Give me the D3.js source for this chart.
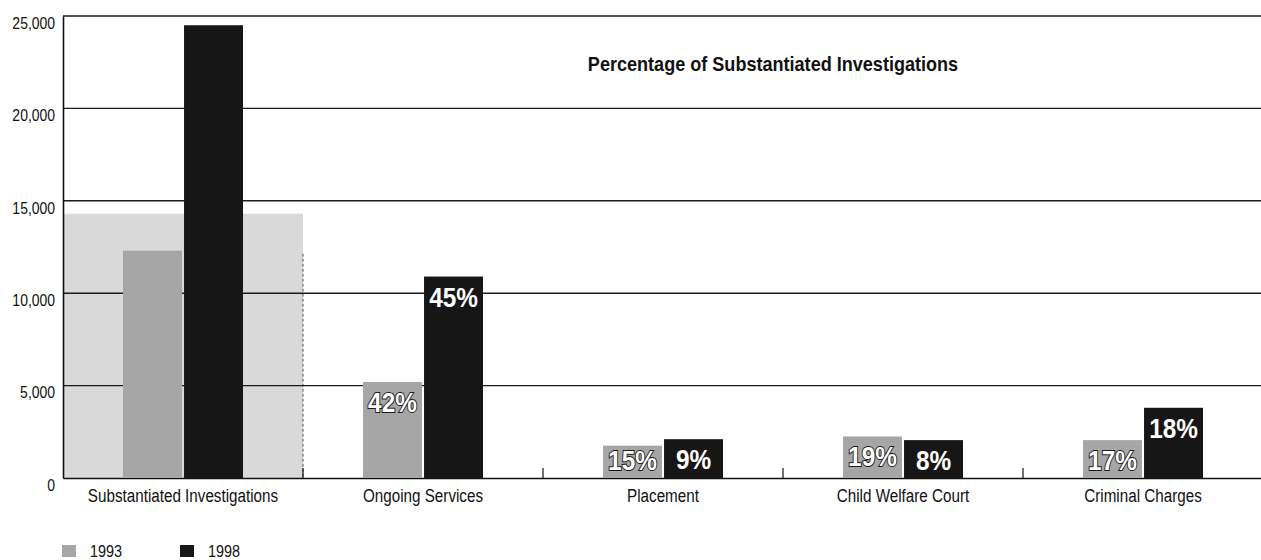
<!DOCTYPE html>
<html><head><meta charset="utf-8">
<script src="https://cdn.jsdelivr.net/npm/d3@7"></script>
<style>
html,body{margin:0;padding:0;background:#fff;}
svg text{font-family:"Liberation Sans","Arimo",Arial,sans-serif;}
</style></head><body>
<svg id="chart" width="1261" height="560"></svg>
<script>
const categories = ["Substantiated Investigations","Ongoing Services","Placement","Child Welfare Court","Criminal Charges"];
const series = ["1993","1998"];
const values1993 = [12300, 5200, 1750, 2250, 2050];
const values1998 = [24500, 10900, 2100, 2050, 3800];
const pct1993 = [null, "42%", "15%", "19%", "17%"];
const pct1998 = [null, "45%", "9%", "8%", "18%"];
const yTicks = [0, 5000, 10000, 15000, 20000, 25000];
const highlightValue = 14300;
const chartTitle = "Percentage of Substantiated Investigations";

const colors = {"1993": "#a6a6a6", "1998": "#161616"};
const svg = d3.select("#chart");
const margin = {left: 63, right: -2, top: 16, bottom: 82};
const W = 1261, H = 560;
const x = d3.scaleBand().domain(categories).range([margin.left, W - margin.right]).padding(0);
const xs = d3.scaleBand().domain(series).range([x.bandwidth()/4, x.bandwidth()*3/4]).paddingInner(0.034).paddingOuter(0);
const y = d3.scaleLinear().domain([0, 25000]).range([H - margin.bottom, margin.top]);

// narrow the glyphs horizontally to mimic a condensed typeface
function condense(sel, f) {
  sel.each(function() {
    const n = this.getComputedTextLength();
    if (n > 0) d3.select(this).attr("textLength", n * f).attr("lengthAdjust", "spacingAndGlyphs");
  });
}

const data = categories.map((c, i) => ({cat: c, vals: [
  {s: "1993", v: values1993[i], p: pct1993[i]},
  {s: "1998", v: values1998[i], p: pct1998[i]}
]}));

// backdrop behind the first category
svg.append("rect")
  .attr("x", x(categories[0]))
  .attr("y", y(highlightValue))
  .attr("width", x.bandwidth())
  .attr("height", y(0) - y(highlightValue))
  .attr("fill", "#d9d9d9");
svg.append("line")
  .attr("x1", x(categories[0]) + x.bandwidth()).attr("x2", x(categories[0]) + x.bandwidth())
  .attr("y1", y(highlightValue) + 40).attr("y2", y(0))
  .attr("stroke", "#555").attr("stroke-width", 1).attr("stroke-dasharray", "3,2");

// gridlines
svg.append("g").selectAll("line").data(yTicks.filter(t => t > 0)).join("line")
  .attr("x1", margin.left).attr("x2", W)
  .attr("y1", d => y(d)).attr("y2", d => y(d))
  .attr("stroke", "#1a1a1a").attr("stroke-width", 1.4);

// y axis
const yAxis = svg.append("g").attr("transform", `translate(${margin.left},0)`)
  .call(d3.axisLeft(y).tickValues(yTicks).tickFormat(d3.format(",")).tickSize(0).tickPadding(8));
yAxis.select(".domain").attr("stroke", "#111").attr("stroke-width", 1.6);
yAxis.selectAll("text").attr("font-size", 17).attr("fill", "#111").attr("dy", "0.72em").call(condense, 0.82);

// x axis
const xAxis = svg.append("g").attr("transform", `translate(0,${y(0)})`)
  .call(d3.axisBottom(x).tickSize(0).tickPadding(11));
xAxis.select(".domain").attr("stroke", "#111").attr("stroke-width", 1.6);
xAxis.selectAll("text").attr("font-size", 18).attr("fill", "#111").call(condense, 0.845);

// category separators
svg.append("g").selectAll("line").data(categories.slice(1)).join("line")
  .attr("x1", d => x(d)).attr("x2", d => x(d))
  .attr("y1", y(0) - 10).attr("y2", y(0))
  .attr("stroke", "#111").attr("stroke-width", 1.2);

// bars
const groups = svg.append("g").selectAll("g").data(data).join("g")
  .attr("transform", d => `translate(${x(d.cat)},0)`);
groups.selectAll("rect").data(d => d.vals).join("rect")
  .attr("x", d => xs(d.s))
  .attr("y", d => y(d.v))
  .attr("width", xs.bandwidth())
  .attr("height", d => y(0) - y(d.v))
  .attr("fill", d => colors[d.s]);

// percentage labels
groups.selectAll("text.pct").data(d => d.vals.filter(v => v.p)).join("text")
  .attr("class", "pct")
  .attr("x", d => xs(d.s) + xs.bandwidth()/2)
  .attr("y", d => Math.min(y(d.v) + 30, y(0) - 8))
  .attr("text-anchor", "middle")
  .attr("font-size", 28).attr("font-weight", "bold")
  .attr("fill", "#fff")
  .attr("stroke", d => d.s === "1993" ? "#1a1a1a" : "none")
  .attr("stroke-width", 2)
  .attr("paint-order", "stroke")
  .text(d => d.p)
  .call(condense, 0.87);

// title
svg.append("text").attr("x", 773).attr("y", 71).attr("text-anchor", "middle")
  .attr("font-size", 21).attr("font-weight", "bold").attr("fill", "#111")
  .text(chartTitle).call(condense, 0.86);

// legend
const legend = svg.append("g").selectAll("g").data(series).join("g")
  .attr("transform", (d, i) => `translate(${62 + i * 118},545)`);
legend.append("rect").attr("width", 14).attr("height", 12).attr("fill", d => colors[d]);
legend.append("text").attr("x", 28).attr("y", 12).attr("font-size", 16).attr("fill", "#111").text(d => d).call(condense, 0.9);
</script>
</body></html>
